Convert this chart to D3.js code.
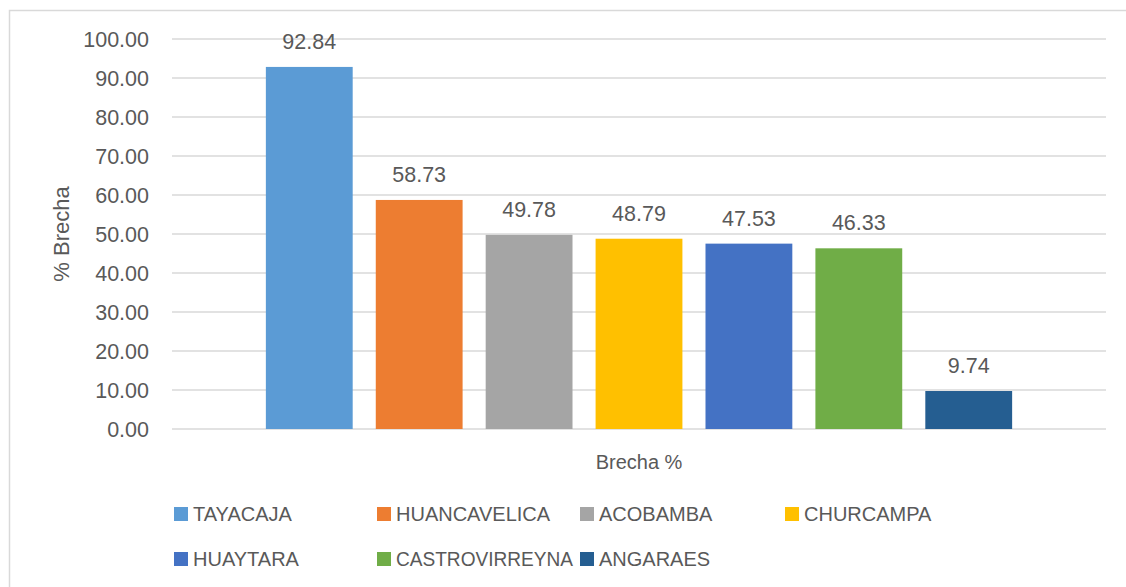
<!DOCTYPE html>
<html><head><meta charset="utf-8">
<script src="https://cdn.jsdelivr.net/npm/d3@7"></script>
<style>body{margin:0;background:#fff}svg{display:block}text{font-family:"Liberation Sans",Arial,sans-serif;fill:#595959}</style>
</head><body><svg id="c" width="1126" height="587"></svg>
<script>
const category = ["Brecha %"];
const series = ["TAYACAJA","HUANCAVELICA","ACOBAMBA","CHURCAMPA","HUAYTARA","CASTROVIRREYNA","ANGARAES"];
const values = [92.84,58.73,49.78,48.79,47.53,46.33,9.74];
const colors = ["#5B9BD5","#ED7D31","#A5A5A5","#FFC000","#4472C4","#70AD47","#255E91"];
const yTicks = [0,10,20,30,40,50,60,70,80,90,100];

(function(){
const svg = d3.select("#c");
svg.append("rect").attr("x",9.5).attr("y",10.5).attr("width",1140).attr("height",600)
  .attr("fill","#fff").attr("stroke","#D9D9D9").attr("stroke-width",1.5);

const pl=172, pr=1106, pt=39, pb=429;
const y = d3.scaleLinear().domain([0,100]).range([pb,pt]);
const x0 = d3.scaleBand().domain(category).range([pl,pr]).paddingInner(0).paddingOuter(0.107);
const x1 = d3.scaleBand().domain(series).range([0,x0.bandwidth()]).paddingInner(0.21).paddingOuter(0.105);

svg.append("g").selectAll("line").data(yTicks).join("line")
  .attr("x1",pl).attr("x2",pr).attr("y1",d=>y(d)).attr("y2",d=>y(d))
  .attr("stroke","#D9D9D9").attr("stroke-width",1.3);

const yAxis = d3.axisLeft(y).tickValues(yTicks).tickFormat(d3.format(".2f")).tickSize(0).tickPadding(0);
const ga = svg.append("g").attr("transform",`translate(149,0)`).call(yAxis);
ga.select(".domain").remove();
ga.attr("font-family",null).attr("font-size",null);
ga.selectAll("text").style("font-size","21.5px").attr("fill","#595959").attr("dy","0.35em");

const g = svg.append("g").attr("transform",`translate(${x0(category[0])},0)`);
g.selectAll("rect").data(series).join("rect")
  .attr("x",d=>x1(d)).attr("width",x1.bandwidth())
  .attr("y",(d,i)=>y(values[i])).attr("height",(d,i)=>pb-y(values[i]))
  .attr("fill",(d,i)=>colors[i]);
g.selectAll("text.lbl").data(series).join("text").attr("class","lbl")
  .attr("x",d=>x1(d)+x1.bandwidth()/2).attr("y",(d,i)=>y(values[i])-18)
  .attr("text-anchor","middle").style("font-size","21.5px")
  .text((d,i)=>d3.format(".2f")(values[i]));

svg.append("text").attr("x",(pl+pr)/2).attr("y",469).attr("text-anchor","middle")
  .style("font-size","20px").text(category[0]);
svg.append("text").attr("transform","translate(69,234) rotate(-90)").attr("text-anchor","middle")
  .style("font-size","22px").text("% Brecha");

const legX = [174,377,580,785], legY=[514,559];
const lg = svg.append("g").selectAll("g").data(series).join("g")
  .attr("transform",(d,i)=>`translate(${legX[i%4]},${legY[Math.floor(i/4)]})`);
lg.append("rect").attr("x",0).attr("y",-7).attr("width",14).attr("height",14).attr("fill",(d,i)=>colors[i]);
lg.append("text").attr("x",19).attr("y",0).attr("dy","0.35em").style("font-size","20px").text(d=>d)
  .each(function(){ const w=this.getComputedTextLength(); if(w>177){ d3.select(this).attr("textLength",177).attr("lengthAdjust","spacingAndGlyphs"); } });
})();
</script></body></html>
